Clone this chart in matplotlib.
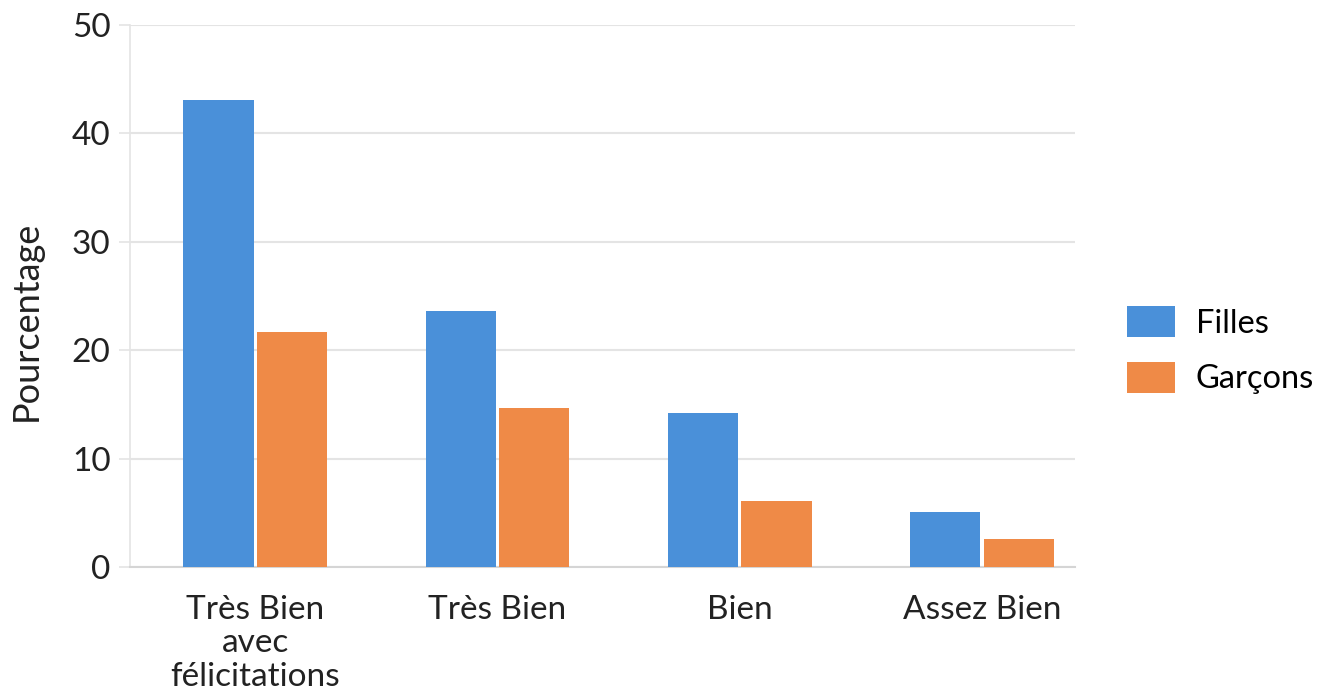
import matplotlib.pyplot as plt
import numpy as np

plt.rcParams["font.family"] = ["Lato", "DejaVu Sans"]

categories = ["Très Bien\navec\nfélicitations", "Très Bien", "Bien", "Assez Bien"]
filles = [43.1, 23.6, 14.2, 5.1]
garcons = [21.7, 14.7, 6.1, 2.6]

BLUE = "#4a90d9"
ORANGE = "#ef8a47"
GRID = "#e4e4e4"
TXT = "#222222"

fig = plt.figure(figsize=(13.24, 6.97), dpi=100)
ax = fig.add_axes([0.0982, 0.1865, 0.7138, 0.7775])

x = np.arange(len(categories))
w = 0.29
ax.bar(x - 0.152, filles, w, color=BLUE, label="Filles", zorder=3)
ax.bar(x + 0.152, garcons, w, color=ORANGE, label="Garçons", zorder=3)

ax.set_xlim(-0.517, 3.385)
ax.set_ylim(0, 50)
ax.set_yticks([0, 10, 20, 30, 40, 50])
ax.grid(axis="y", color=GRID, linewidth=1.5, zorder=0)
ax.set_axisbelow(True)

for s in ["top", "right"]:
    ax.spines[s].set_visible(False)
ax.spines["left"].set_color(GRID)
ax.spines["left"].set_linewidth(1.2)
ax.spines["bottom"].set_color("#d5d5d5")
ax.spines["bottom"].set_linewidth(1.5)

ax.set_xticks(x)
ax.set_xticklabels(categories, fontsize=24, color=TXT, linespacing=1.15)
ax.tick_params(axis="x", length=0, pad=20)
ax.tick_params(axis="y", labelsize=24, colors=TXT, length=8,
               color=GRID, width=1.2, pad=6)

ax.set_ylabel("Pourcentage", fontsize=26, color=TXT)
ax.yaxis.set_label_coords(-0.092, 0.455)

ax.legend(loc="center left", bbox_to_anchor=(1.031, 0.40), frameon=False,
          fontsize=23.5, handlelength=1.45, handleheight=1.1,
          labelspacing=0.7, handletextpad=0.65, borderaxespad=0.3)

fig.savefig("out.png", dpi=100)
